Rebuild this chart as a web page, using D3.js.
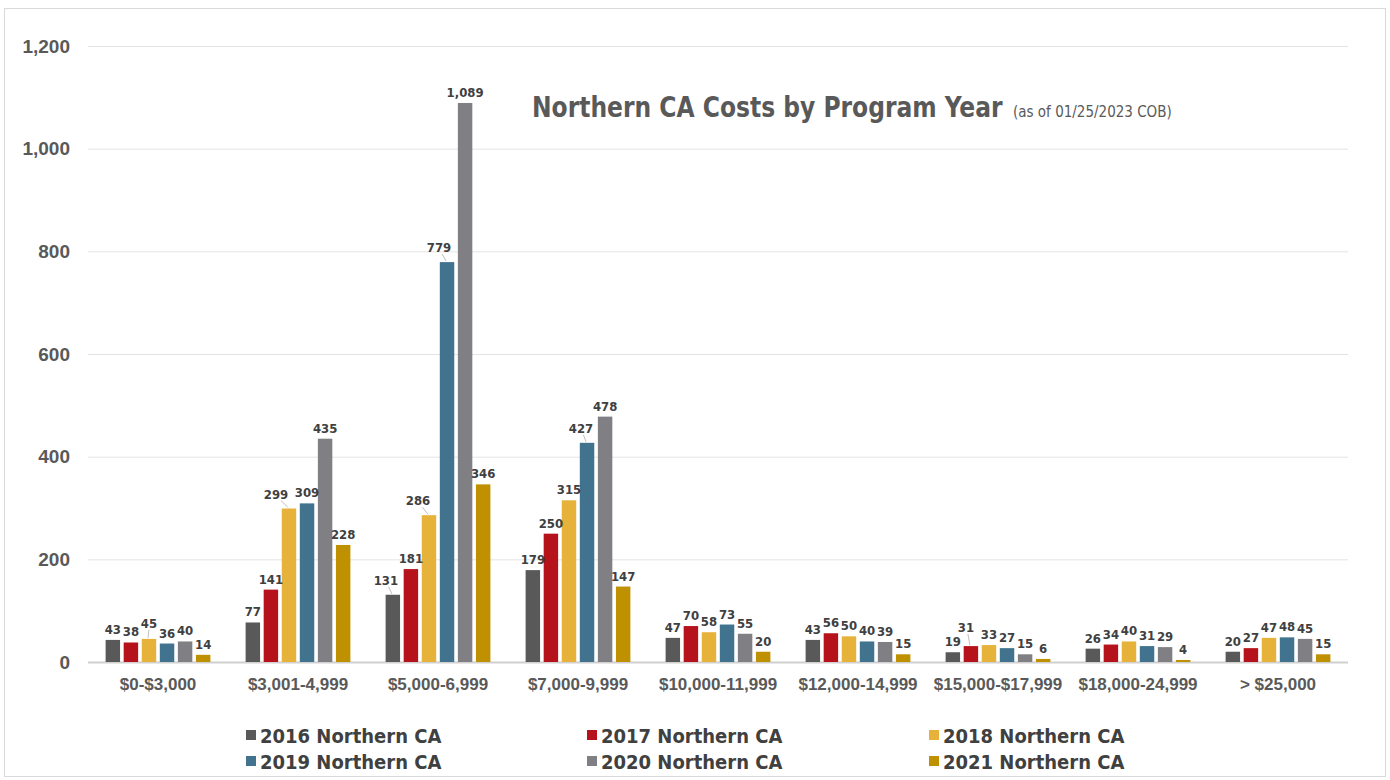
<!DOCTYPE html>
<html lang="en">
<head>
  <meta charset="UTF-8">
  <title>Northern CA Costs by Program Year</title>
  <script src="https://d3js.org/d3.v7.min.js"></script>
  <style>
    body { margin: 0; background: #fff; }
    svg { font-family: "DejaVu Sans Condensed", "DejaVu Sans", sans-serif; font-stretch: condensed; }
    .tick text { font-weight: bold; fill: #595959; }
    .lbl { font-size: 13px; fill: #404040; font-weight: bold; }
  </style>
</head>
<body>
  <svg id="chart"></svg>
  <script>
    // chart data
    const categories = ["$0-$3,000", "$3,001-4,999", "$5,000-6,999", "$7,000-9,999", "$10,000-11,999",
                        "$12,000-14,999", "$15,000-$17,999", "$18,000-24,999", "> $25,000"];
    const seriesNames = ["2016 Northern CA", "2017 Northern CA", "2018 Northern CA",
                         "2019 Northern CA", "2020 Northern CA", "2021 Northern CA"];
    const y2016 = [43, 77, 131, 179, 47, 43, 19, 26, 20];
    const y2017 = [38, 141, 181, 250, 70, 56, 31, 34, 27];
    const y2018 = [45, 299, 286, 315, 58, 50, 33, 40, 47];
    const y2019 = [36, 309, 779, 427, 73, 40, 27, 31, 48];
    const y2020 = [40, 435, 1089, 478, 55, 39, 15, 29, 45];
    const y2021 = [14, 228, 346, 147, 20, 15, 6, 4, 15];
    const yTicks = [0, 200, 400, 600, 800, 1000, 1200];
    const colors = ["#595959", "#b5121b", "#e6b23a", "#41728e", "#7f7f84", "#bf9000"];

    const series = [y2016, y2017, y2018, y2019, y2020, y2021];

    // manual label nudges (category index, series index, dx, dy), like the hand-placed labels
    const nudges = [
      { c: 1, s: 2, dx: -13, dy: -4 },
      { c: 2, s: 0, dx: -7, dy: -4 },
      { c: 2, s: 2, dx: -11, dy: -4 },
      { c: 2, s: 3, dx: -8, dy: -4 },
      { c: 3, s: 3, dx: -6, dy: -4 },
      { c: 0, s: 2, dx: 0, dy: -5 },
      { c: 6, s: 1, dx: -5, dy: -8 }
    ];

    const width = 1390, height = 780;
    const margin = { top: 46, right: 42, bottom: 118, left: 88 };
    const svg = d3.select("#chart").attr("width", width).attr("height", height);

    // outer frame
    svg.append("rect")
      .attr("x", 4.5).attr("y", 8.5)
      .attr("width", width - 9).attr("height", height - 12)
      .attr("fill", "none").attr("stroke", "#d9d9d9");

    const x0 = d3.scaleBand().domain(categories)
      .range([margin.left, width - margin.right]).paddingInner(0.2).paddingOuter(0.1);
    const x1 = d3.scaleBand().domain(d3.range(series.length))
      .range([0, x0.bandwidth()]).padding(0.2);
    const y = d3.scaleLinear().domain([0, 1200]).range([height - margin.bottom, margin.top]);

    // gridlines + y axis
    const yAxis = d3.axisLeft(y).tickValues(yTicks).tickFormat(d3.format(","))
      .tickSize(-(width - margin.left - margin.right)).tickPadding(18);
    const gy = svg.append("g").attr("transform", `translate(${margin.left},0)`).call(yAxis);
    gy.select(".domain").remove();
    gy.selectAll(".tick line").attr("stroke", d => d === 0 ? "#d0d0d0" : "#e3e3e3")
      .attr("stroke-width", d => d === 0 ? 2 : 1);
    gy.selectAll(".tick text").style("font-size", "19px");

    // x axis labels
    const gx = svg.append("g").attr("transform", `translate(0,${y(0)})`)
      .call(d3.axisBottom(x0).tickSize(0).tickPadding(16));
    gx.select(".domain").remove();
    gx.selectAll(".tick text").style("font-size", "17px");

    // bars
    const cells = (c, i) => series.map((s, k) => {
      const n = nudges.find(e => e.c === i && e.s === k);
      return { k, v: s[i], dx: n ? n.dx : 0, dy: n ? n.dy : 0 };
    });

    const groups = svg.append("g").selectAll("g")
      .data(categories).join("g")
      .attr("transform", d => `translate(${x0(d)},0)`);

    groups.selectAll("rect")
      .data(cells)
      .join("rect")
      .attr("x", d => x1(d.k))
      .attr("width", x1.bandwidth())
      .attr("y", d => y(d.v))
      .attr("height", d => y(0) - y(d.v))
      .attr("fill", d => colors[d.k]);

    // leader lines for nudged labels
    groups.selectAll("line.leader")
      .data((c, i) => cells(c, i).filter(d => d.dx !== 0 || d.dy < -4))
      .join("line")
      .attr("class", "leader")
      .attr("x1", d => x1(d.k) + x1.bandwidth() / 2 + d.dx * 0.6)
      .attr("y1", d => y(d.v) - 5 + d.dy + 1)
      .attr("x2", d => x1(d.k) + x1.bandwidth() / 2 - 1)
      .attr("y2", d => y(d.v) - 1)
      .attr("stroke", "#bfbfbf").attr("stroke-width", 1);

    // data labels
    groups.selectAll("text.lbl")
      .data(cells)
      .join("text")
      .attr("class", "lbl")
      .attr("x", d => x1(d.k) + x1.bandwidth() / 2 + d.dx)
      .attr("y", d => y(d.v) - 6 + d.dy)
      .attr("text-anchor", "middle")
      .text(d => d3.format(",")(d.v));

    // title (squeezed horizontally to match the condensed original)
    svg.append("text")
      .attr("transform", "translate(532,117) scale(0.93,1)")
      .attr("fill", "#595959")
      .style("font-size", "28px").style("font-weight", "bold")
      .text("Northern CA Costs by Program Year");
    svg.append("text")
      .attr("x", 1013).attr("y", 117)
      .attr("fill", "#595959")
      .style("font-size", "15px")
      .text("(as of 01/25/2023 COB)");

    // legend
    const legendX = [246, 587, 929];
    const legendY = [736, 762];
    const legend = svg.append("g").selectAll("g")
      .data(seriesNames).join("g")
      .attr("transform", (d, i) => `translate(${legendX[i % 3]},${legendY[Math.floor(i / 3)]})`);
    legend.append("rect")
      .attr("x", 0).attr("y", -6).attr("width", 10).attr("height", 10)
      .attr("fill", (d, i) => colors[i]);
    legend.append("text")
      .attr("x", 14).attr("y", 0).attr("dy", "0.35em")
      .attr("fill", "#404040")
      .style("font-size", "20px").style("font-weight", "bold")
      .text(d => d);
  </script>
</body>
</html>
